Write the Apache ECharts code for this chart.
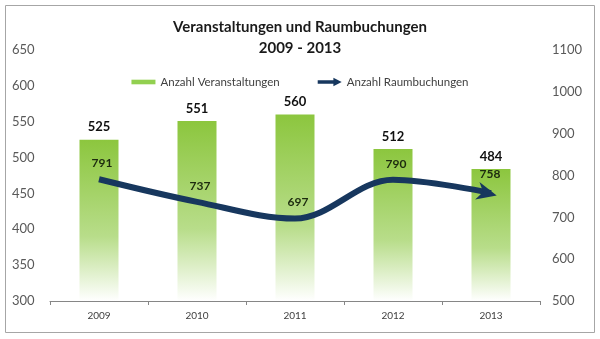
<!DOCTYPE html>
<html><head><meta charset="utf-8">
<script src="https://cdn.jsdelivr.net/npm/echarts@6/dist/echarts.min.js"></script>
<style>html,body{margin:0;padding:0;background:#fff}#c{width:600px;height:339px}</style>
</head><body><div id="c"></div>
<script>
const categories = ['2009','2010','2011','2012','2013'];
const veranstaltungen = [525, 551, 560, 512, 484];
const raumbuchungen = [791, 737, 697, 790, 758];
const leftTicks = {min: 300, max: 650, interval: 50};
const rightTicks = {min: 500, max: 1100, interval: 100};

const font = 'Lato, "Open Sans", sans-serif';
const chart = echarts.init(document.getElementById('c'));
const lineData = raumbuchungen.map((v, i) => i === raumbuchungen.length - 1
  ? {value: v, symbol: 'path://M0,0 L10,5 L0,10 L3,5 Z', symbolSize: [20, 18], symbolRotate: -14, symbolOffset: [-4, 0],
     label: {distance: 2}}
  : {value: v});
chart.setOption({
  animation: false,
  textStyle: {fontFamily: font},
  graphic: [{type: 'rect', shape: {x: 5.5, y: 5.5, width: 589, height: 327}, style: {fill: 'none', stroke: '#a6a6a6', lineWidth: 1}, silent: true}],
  title: {
    text: 'Veranstaltungen und Raumbuchungen\n2009 - 2013',
    left: 'center', top: 12,
    textStyle: {fontFamily: font, fontSize: 15, fontWeight: 'bold', color: '#1a1a1a', lineHeight: 21}
  },
  legend: {
    top: 71, left: 'center', itemGap: 38, itemWidth: 24, itemHeight: 9,
    textStyle: {fontFamily: font, fontSize: 11.5, color: '#404040'},
    data: [
      {name: 'Anzahl Veranstaltungen', icon: 'path://M0,2 L26,2 L26,7 L0,7 Z', itemStyle: {color: '#92d050'}},
      {name: 'Anzahl Raumbuchungen', icon: 'path://M0,2.5 L17,2.5 L17,0 L26,4.5 L17,9 L17,6.5 L0,6.5 Z', itemStyle: {color: '#17375e'}}
    ]
  },
  grid: {left: 50, right: 60, top: 50, bottom: 38},
  xAxis: {
    type: 'category', data: categories, boundaryGap: true,
    axisLine: {lineStyle: {color: '#868686', width: 1}},
    axisTick: {show: true, length: 4, inside: false, lineStyle: {color: '#868686'}},
    axisLabel: {color: '#404040', fontSize: 10, fontFamily: font, margin: 10}
  },
  yAxis: [
    {type: 'value', min: leftTicks.min, max: leftTicks.max, interval: leftTicks.interval,
     position: 'left', splitLine: {show: false}, axisLine: {show: false}, axisTick: {show: false},
     axisLabel: {color: '#595959', fontSize: 13, fontFamily: font, align: 'left', margin: 38}},
    {type: 'value', min: rightTicks.min, max: rightTicks.max, interval: rightTicks.interval,
     position: 'right', splitLine: {show: false}, axisLine: {show: false}, axisTick: {show: false},
     axisLabel: {color: '#595959', fontSize: 13, fontFamily: font, align: 'left', margin: 12, formatter: v => String(v)}}
  ],
  series: [
    {name: 'Anzahl Veranstaltungen', type: 'bar', yAxisIndex: 0, barWidth: 39,
     data: veranstaltungen,
     itemStyle: {color: new echarts.graphic.LinearGradient(0, 0, 0, 1, [
       {offset: 0, color: '#8cc63e'}, {offset: 0.6, color: '#b8dd8a'}, {offset: 1, color: '#ffffff'}])},
     label: {show: true, position: 'top', distance: 6, fontSize: 13, fontWeight: 'bold', color: '#111', fontFamily: font}},
    {name: 'Anzahl Raumbuchungen', type: 'line', yAxisIndex: 1, smooth: 0.35,
     data: lineData, symbol: 'circle', symbolSize: 0.1, showSymbol: true,
     lineStyle: {color: '#17375e', width: 6},
     itemStyle: {color: '#17375e'},
     label: {show: true, position: 'top', distance: 10, offset: [3, 0], fontSize: 12, fontWeight: 'bold', color: '#1d2b0f', fontFamily: font}}
  ]
});
</script></body></html>
